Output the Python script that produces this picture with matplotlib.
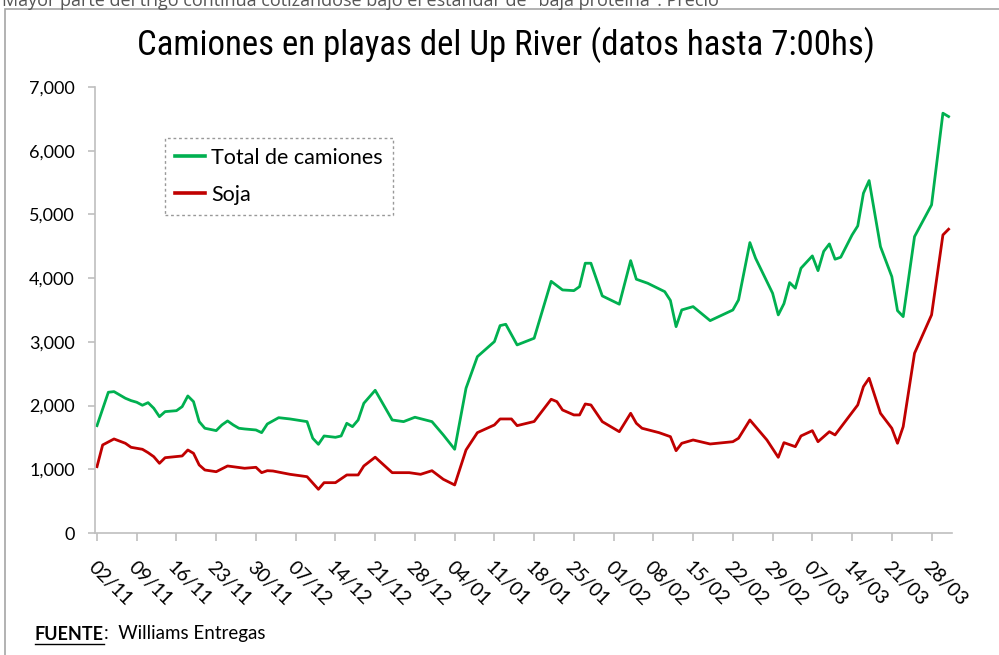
import matplotlib
matplotlib.use("Agg")
import matplotlib.pyplot as plt
import matplotlib.dates as mdates
import matplotlib.transforms as mtransforms
from matplotlib.patches import Rectangle
from matplotlib import font_manager
import pandas as pd

# ---------------- data ----------------
total_dates = ["2015-11-02","2015-11-04","2015-11-05","2015-11-07","2015-11-08","2015-11-09","2015-11-10",
    "2015-11-11","2015-11-12","2015-11-13","2015-11-14","2015-11-16","2015-11-17","2015-11-18","2015-11-19",
    "2015-11-20","2015-11-21","2015-11-23","2015-11-24","2015-11-25","2015-11-26","2015-11-27","2015-11-28",
    "2015-11-30","2015-12-01","2015-12-02","2015-12-04","2015-12-06","2015-12-09","2015-12-10","2015-12-11",
    "2015-12-12","2015-12-14","2015-12-15","2015-12-16","2015-12-17","2015-12-18","2015-12-19","2015-12-21",
    "2015-12-24","2015-12-26","2015-12-28","2015-12-31","2016-01-02","2016-01-04","2016-01-06","2016-01-08",
    "2016-01-11","2016-01-12","2016-01-13","2016-01-15","2016-01-18","2016-01-21","2016-01-23","2016-01-25",
    "2016-01-26","2016-01-27","2016-01-28","2016-01-30","2016-02-02","2016-02-04","2016-02-05","2016-02-07",
    "2016-02-10","2016-02-11","2016-02-12","2016-02-13","2016-02-15","2016-02-18","2016-02-22","2016-02-23",
    "2016-02-25","2016-02-26","2016-02-29","2016-03-01","2016-03-02","2016-03-03","2016-03-04","2016-03-05",
    "2016-03-07","2016-03-08","2016-03-09","2016-03-10","2016-03-11","2016-03-12","2016-03-14","2016-03-15",
    "2016-03-16","2016-03-17","2016-03-19","2016-03-21","2016-03-22","2016-03-23","2016-03-25","2016-03-28",
    "2016-03-30","2016-03-31"]
total_values = [1685,2209,2219,2115,2078,2052,2005,2046,1958,1826,1905,1920,1983,2151,2062,1748,1644,1607,1696,
    1759,1696,1644,1633,1617,1575,1711,1810,1790,1748,1487,1392,1523,1502,1523,1722,1669,1774,2036,2240,1774,
    1748,1817,1748,1539,1314,2272,2768,3004,3255,3276,2952,3057,3950,3815,3804,3867,4234,4234,3721,3591,4275,
    3983,3920,3788,3650,3239,3501,3553,3333,3500,3658,4558,4313,3763,3423,3600,3930,3842,4156,4349,4118,4420,
    4537,4297,4328,4678,4820,5333,5531,4495,4024,3490,3396,4652,5150,6589,6536]

soja_dates = ["2015-11-02","2015-11-03","2015-11-05","2015-11-07","2015-11-08","2015-11-10","2015-11-11",
    "2015-11-12","2015-11-13","2015-11-14","2015-11-17","2015-11-18","2015-11-19","2015-11-20","2015-11-21",
    "2015-11-23","2015-11-25","2015-11-26","2015-11-28","2015-11-30","2015-12-01","2015-12-02","2015-12-03",
    "2015-12-06","2015-12-09","2015-12-11","2015-12-12","2015-12-14","2015-12-16","2015-12-18","2015-12-19",
    "2015-12-21","2015-12-24","2015-12-27","2015-12-29","2015-12-31","2016-01-02","2016-01-04","2016-01-06",
    "2016-01-08","2016-01-11","2016-01-12","2016-01-14","2016-01-15","2016-01-18","2016-01-21","2016-01-22",
    "2016-01-23","2016-01-25","2016-01-26","2016-01-27","2016-01-28","2016-01-30","2016-02-02","2016-02-04",
    "2016-02-05","2016-02-06","2016-02-09","2016-02-11","2016-02-12","2016-02-13","2016-02-15","2016-02-18",
    "2016-02-22","2016-02-23","2016-02-25","2016-02-28","2016-03-01","2016-03-02","2016-03-04","2016-03-05",
    "2016-03-07","2016-03-08","2016-03-10","2016-03-11","2016-03-15","2016-03-16","2016-03-17","2016-03-19",
    "2016-03-21","2016-03-22","2016-03-23","2016-03-25","2016-03-28","2016-03-30","2016-03-31"]
soja_values = [1041,1382,1476,1408,1345,1314,1261,1198,1094,1182,1209,1303,1251,1068,989,962,1052,1040,1016,
    1031,947,978,973,921,884,686,790,790,911,911,1052,1190,947,947,921,978,843,754,1303,1575,1696,1790,1790,
    1685,1750,2099,2062,1931,1853,1853,2025,2010,1748,1590,1879,1722,1644,1575,1512,1292,1408,1460,1397,1433,
    1487,1774,1460,1188,1418,1355,1523,1606,1433,1590,1539,2010,2297,2429,1879,1644,1408,1669,2821,3423,4678,
    4768]

tick_labels = ["02/11","09/11","16/11","23/11","30/11","07/12","14/12","21/12","28/12","04/01","11/01",
               "18/01","25/01","01/02","08/02","15/02","22/02","29/02","07/03","14/03","21/03","28/03"]
y_ticks = [0, 1000, 2000, 3000, 4000, 5000, 6000, 7000]

title = "Camiones en playas del Up River (datos hasta 7:00hs)"
series_names = ["Total de camiones", "Soja"]

# ---------------- figure ----------------
W, H = 999, 655
fig = plt.figure(figsize=(W / 100, H / 100), dpi=100)
fig.patch.set_facecolor("white")

def fx(px):
    return px / W

def fy(py):
    return 1 - py / H

# outer frame and clipped page text
fig.patches.append(Rectangle((fx(5), fy(670)), fx(1010) - fx(5), fy(9) - fy(670),
                             transform=fig.transFigure, fill=False, edgecolor="#A6A6A6", lw=1.2))
fig.text(fx(2), fy(1), "Mayor parte del trigo continúa cotizándose bajo el estándar de \"baja proteína\". Precio",
         fontsize=13, color="#555555", family=["Open Sans", "DejaVu Sans"], va="center", ha="left")

ax = fig.add_axes([fx(95), fy(533), fx(952) - fx(95), fy(87) - fy(533)])

tdates = pd.to_datetime(total_dates)
sdates = pd.to_datetime(soja_dates)
green = "#00B050"
red = "#C00000"
ax.plot(tdates, total_values, color=green, lw=2.0, label=series_names[0], solid_joinstyle="round")
ax.plot(sdates, soja_values, color=red, lw=2.0, label=series_names[1], solid_joinstyle="round")

start = pd.Timestamp("2015-11-02")
tick_pos = pd.date_range(start, periods=len(tick_labels), freq="7D")
x0 = mdates.date2num(start) - 0.35
x1 = mdates.date2num(pd.Timestamp("2016-03-31")) + 0.6
ax.set_xlim(x0, x1)
ax.set_ylim(0, 7000)

tick_font = ["Lato", "DejaVu Sans"]
ax.set_yticks(y_ticks)
ax.set_yticklabels([f"{v:,}" for v in y_ticks], family=tick_font, fontsize=13)
ax.set_xticks(tick_pos)
ax.set_xticklabels(tick_labels, family=tick_font, fontsize=14, rotation=-45,
                   ha="left", va="top", rotation_mode="anchor")
offset = mtransforms.ScaledTranslation(8 / 100, -7 / 100, fig.dpi_scale_trans)
for lbl in ax.get_xticklabels():
    lbl.set_transform(lbl.get_transform() + offset)

for s in ["top", "right"]:
    ax.spines[s].set_visible(False)
for s in ["left", "bottom"]:
    ax.spines[s].set_color("#BFBFBF")
    ax.spines[s].set_linewidth(1.2)
ax.tick_params(axis="y", direction="out", length=5, width=1.2, color="#BFBFBF", pad=9.5, labelcolor="black")
ax.tick_params(axis="x", direction="out", length=6, width=1.2, color="#BFBFBF", pad=12, labelcolor="black")

# title (narrow font if available)
names = {f.name for f in font_manager.fontManager.ttflist}
title_fam = [n for n in ["Liberation Sans Narrow", "DejaVu Sans Condensed", "Roboto Condensed"] if n in names]
if title_fam:
    fig.text(fx(506), fy(45), title, ha="center", va="center", fontsize=25,
             family=title_fam + ["DejaVu Sans"], color="black")
else:
    fig.text(fx(506), fy(45), title, ha="center", va="center", fontsize=19.5,
             family=["DejaVu Sans"], stretch="condensed", color="black")

# legend
leg = ax.legend(loc="upper left", bbox_to_anchor=(fx(165), fy(138)), bbox_transform=fig.transFigure,
                borderaxespad=0, frameon=True, fancybox=False, handlelength=1.4, handletextpad=0.3,
                labelspacing=0.8, borderpad=0.45, prop={"family": tick_font, "size": 15.5})
frame = leg.get_frame()
frame.set_edgecolor("#808080")
frame.set_linestyle((0, (2, 2)))
frame.set_linewidth(1.0)
for line in leg.get_lines():
    line.set_linewidth(2.6)

# footer
foot_font = ["Lato", "DejaVu Sans"]
t1 = fig.text(fx(35), fy(634), "FUENTE", fontsize=13, weight="bold", family=foot_font,
              ha="left", va="center", color="black")
fig.canvas.draw()
bb = t1.get_window_extent()
fig.add_artist(plt.Line2D([bb.x0 / W, bb.x1 / W], [bb.y0 / H - 0.002, bb.y0 / H - 0.002],
                          transform=fig.transFigure, color="black", lw=1))
fig.text(bb.x1 / W, fy(634), ":  Williams Entregas", fontsize=13.5, family=foot_font,
         ha="left", va="center", color="black")

fig.savefig("out.png", dpi=100, facecolor="white")
